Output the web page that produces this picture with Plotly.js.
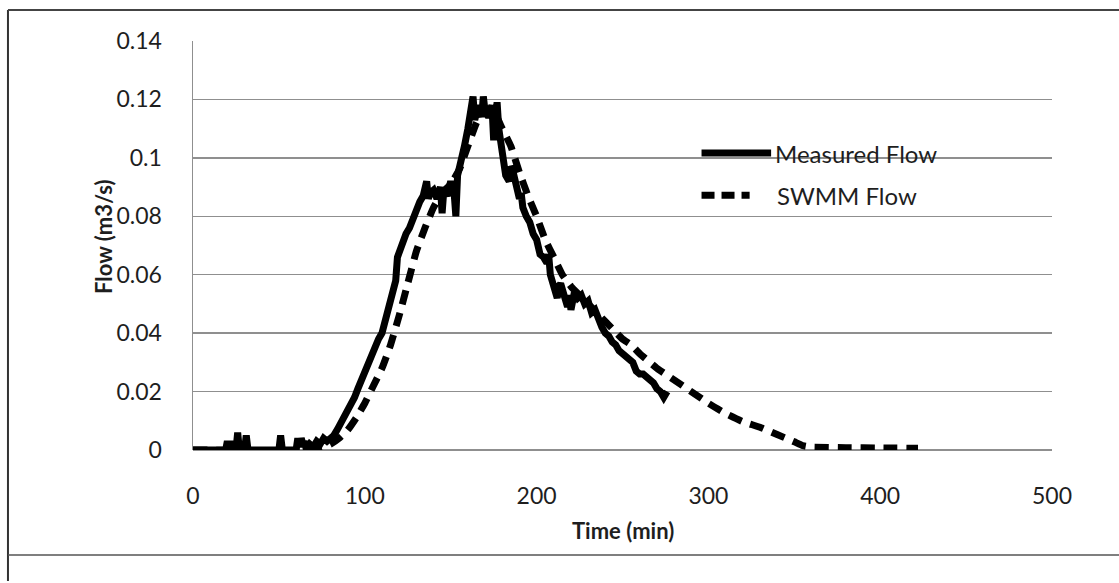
<!DOCTYPE html>
<html>
<head>
<meta charset="utf-8">
<script src="https://cdn.plot.ly/plotly-3.0.1.min.js"></script>
<style>
html,body{margin:0;padding:0;background:#fff;}
#chart{width:1119px;height:583px;}
</style>
</head>
<body>
<div id="chart"></div>
<script>
// Measured flow (time in min, flow in m3/s)
const measuredTime = [0,19,20,21,22,23,25,26,27,30,31,32,50,51,52,60,61,62,63,64,65,66,68,70,72,74,76,78,80,82,84,86,88,90,92,94,96,98,100,102,104,106,108,110,112,114,116,118,119,120,122,124,126,128,130,132,134,136,137,138,140,142,144,145,146,148,150,152,153,154,156,158,160,162,163,164,166,168,169,170,172,174,175,176,177,178,180,182,184,185,186,188,190,191,192,194,196,198,200,202,204,206,207,208,210,212,213,214,216,218,219,220,222,224,226,228,230,232,234,236,238,240,242,244,246,248,250,252,254,256,258,260,262,264,266,268,270,272,274,276];
const measuredFlow = [0,0,0.003,0,0.003,0,0,0.006,0,0,0.005,0,0,0.005,0,0,0.004,0.001,0.004,0.002,0.003,0,0.002,0.001,0.003,0.002,0.004,0.003,0.004,0.005,0.007,0.009,0.011,0.013,0.016,0.018,0.021,0.024,0.026,0.029,0.032,0.035,0.038,0.040,0.044,0.048,0.053,0.058,0.066,0.068,0.070,0.074,0.076,0.080,0.082,0.085,0.087,0.092,0.086,0.088,0.089,0.086,0.090,0.081,0.089,0.087,0.092,0.088,0.080,0.094,0.098,0.104,0.110,0.116,0.121,0.113,0.118,0.114,0.121,0.116,0.114,0.118,0.106,0.114,0.119,0.110,0.101,0.094,0.092,0.097,0.096,0.090,0.086,0.088,0.083,0.080,0.078,0.074,0.072,0.067,0.066,0.064,0.067,0.060,0.056,0.052,0.056,0.057,0.053,0.049,0.053,0.048,0.054,0.052,0.053,0.050,0.051,0.047,0.048,0.044,0.042,0.040,0.039,0.037,0.036,0.034,0.033,0.032,0.031,0.030,0.027,0.026,0.026,0.025,0.024,0.023,0.021,0.020,0.018,0.020];

// SWMM simulated flow
const swmmTime = [0,70,76,80,85,90,95,100,105,110,115,120,125,130,135,140,145,150,155,160,165,170,175,180,185,190,195,200,205,210,215,220,225,230,235,240,245,250,255,260,270,280,290,300,310,320,330,340,350,355,360,380,400,422];
const swmmFlow = [0,0,0.001,0.002,0.004,0.0068,0.011,0.016,0.022,0.028,0.036,0.046,0.057,0.068,0.076,0.083,0.088,0.091,0.096,0.104,0.112,0.117,0.116,0.110,0.104,0.095,0.087,0.080,0.072,0.066,0.060,0.056,0.053,0.050,0.047,0.044,0.041,0.038,0.036,0.033,0.028,0.024,0.020,0.016,0.0125,0.0097,0.0078,0.0053,0.0028,0.0015,0.001,0.0008,0.0007,0.0006];

// Axis ticks
const yTickVals = [0,0.02,0.04,0.06,0.08,0.1,0.12,0.14];
const yTickText = ["0","0.02","0.04","0.06","0.08","0.1","0.12","0.14"];
const xTickVals = [0,100,200,300,400,500];
const xTickText = ["0","100","200","300","400","500"];

const seriesNames = ["Measured Flow","SWMM Flow"];
const xTitle = "Time (min)";
const yTitle = "Flow (m3/s)";

const FONT = "Lato, 'Open Sans', sans-serif";
const gridColor = "#8f8f8f";
const textColor = "#1e1e1e";

const traces = [
  {
    x: swmmTime, y: swmmFlow, type: "scatter", mode: "lines", name: seriesNames[1],
    line: {color: "#000", width: 7, dash: "14px,9px", shape: "spline", smoothing: 0.4},
    showlegend: false, hoverinfo: "x+y"
  },
  {
    x: measuredTime, y: measuredFlow, type: "scatter", mode: "lines", name: seriesNames[0],
    line: {color: "#000", width: 7},
    showlegend: false, hoverinfo: "x+y"
  }
];

const layout = {
  width: 1119, height: 583,
  paper_bgcolor: "#fff", plot_bgcolor: "#fff",
  margin: {l: 193, r: 67, t: 41, b: 133},
  font: {family: FONT, color: textColor, size: 23},
  xaxis: {
    range: [0, 500], tickvals: xTickVals, ticktext: xTickText,
    showgrid: false, zeroline: false, showline: false,
    ticks: "", ticklabelstandoff: 30,
    tickfont: {family: FONT, size: 23, color: textColor}
  },
  yaxis: {
    range: [0, 0.14], tickvals: yTickVals, ticktext: yTickText,
    showgrid: true, gridcolor: gridColor, gridwidth: 1.5,
    zeroline: true, zerolinecolor: gridColor, zerolinewidth: 1.5,
    showline: true, linecolor: gridColor, linewidth: 1.5,
    ticks: "", ticklabelstandoff: 25,
    tickfont: {family: FONT, size: 23, color: textColor}
  },
  shapes: [
    // outer frame
    {type: "line", xref: "paper", yref: "paper", x0: -0.2154, x1: -0.2154, y0: 1.0758, y1: -0.32, line: {color: "#333", width: 2}},
    {type: "line", xref: "paper", yref: "paper", x0: -0.2154, x1: 1.09, y0: 1.0758, y1: 1.0758, line: {color: "#444", width: 2}},
    {type: "line", xref: "paper", yref: "paper", x0: -0.2154, x1: 1.09, y0: -0.2567, y1: -0.2567, line: {color: "#555", width: 1.5}},
    // legend samples
    {type: "line", xref: "paper", yref: "paper", x0: 0.592, x1: 0.673, y0: 0.726, y1: 0.726, line: {color: "#000", width: 7}},
    {type: "line", xref: "paper", yref: "paper", x0: 0.592, x1: 0.648, y0: 0.623, y1: 0.623, line: {color: "#000", width: 7, dash: "13px,7px"}}
  ],
  annotations: [
    {xref: "paper", yref: "paper", x: 0.675, y: 0.726, xanchor: "left", yanchor: "middle", text: seriesNames[0], showarrow: false, font: {family: FONT, size: 24, color: textColor}},
    {xref: "paper", yref: "paper", x: 0.678, y: 0.623, xanchor: "left", yanchor: "middle", text: seriesNames[1], showarrow: false, font: {family: FONT, size: 24, color: textColor}},
    {xref: "paper", yref: "paper", x: 0.5, y: -0.1956, xanchor: "center", yanchor: "middle", text: "<b>" + xTitle + "</b>", showarrow: false, font: {family: FONT, size: 22, color: textColor}},
    {xref: "paper", yref: "paper", x: -0.1036, y: 0.521, xanchor: "center", yanchor: "middle", textangle: -90, text: "<b>" + yTitle + "</b>", showarrow: false, font: {family: FONT, size: 22, color: textColor}}
  ]
};

Plotly.newPlot("chart", traces, layout, {staticPlot: true, displayModeBar: false});
</script>
</body>
</html>
